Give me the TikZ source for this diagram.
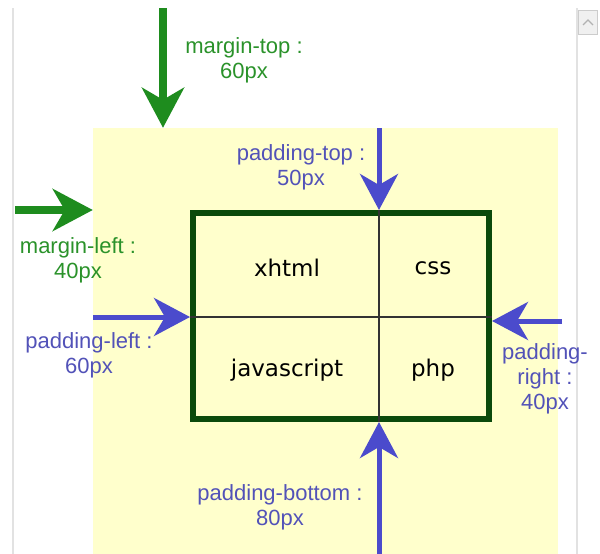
\documentclass[tikz,border=0pt]{standalone}
\usepackage{fontspec}
\setmainfont{Liberation Sans}
\newfontfamily\cellfont{DejaVu Sans}
\usepackage{xcolor}
\usepackage{tikz}
\usetikzlibrary{arrows.meta,positioning}
\definecolor{cssgreen}{HTML}{1E8C1E}
\definecolor{csstextgreen}{HTML}{2A922A}
\definecolor{cssblue}{HTML}{4B4BCC}
\definecolor{csstextblue}{HTML}{5252B8}
\definecolor{cssbox}{HTML}{0B4A0B}
\definecolor{cssyellow}{HTML}{FFFFCC}
\definecolor{cssgray}{HTML}{E2E2E2}
\tikzset{
  area/.style={fill=cssyellow,draw=none,inner sep=0pt,minimum width=465pt,minimum height=426pt},
  tablebox/.style={draw=cssbox,line width=6pt,fill=cssyellow,inner sep=0pt,minimum width=296pt,minimum height=206pt},
  cell/.style={font=\cellfont\fontsize{23}{26}\selectfont,text=black,inner sep=1pt},
  mar/.style={-{Stealth[length=40pt,width=42pt,inset=12pt]},draw=cssgreen,fill=cssgreen,line width=8pt},
  par/.style={-{Stealth[length=36pt,width=38pt,inset=11pt]},draw=cssblue,fill=cssblue,line width=5pt},
  mlabel/.style={text=csstextgreen,align=center,font=\fontsize{22}{25}\selectfont,inner sep=1pt},
  plabel/.style={text=csstextblue,align=center,font=\fontsize{22}{25}\selectfont,inner sep=1pt},
}
\begin{document}
\begin{tikzpicture}[x=1pt,y=-1pt]
  \useasboundingbox (0,0) rectangle (600,554);
  % page frame and scroll button
  \draw[cssgray,line width=1.2pt] (13,8) -- (13,554);
  \draw[cssgray,line width=1.2pt] (577,8) -- (577,554);
  \node[draw=gray!40,fill=gray!12,minimum width=19pt,minimum height=24pt,inner sep=0pt] (scroll) at (588,22) {};
  \draw[gray!60,line width=1.2pt] ([xshift=-5pt,yshift=-3pt]scroll.center) -- ([yshift=2pt]scroll.center) -- ([xshift=5pt,yshift=-3pt]scroll.center);
  % padding area and table
  \node[area] (padarea) at (325.5,341) {};
  \node[tablebox] (tbl) at (341,316) {};
  \draw[black!80,line width=1.3pt] (379,0 |- tbl.north) -- (379,0 |- tbl.south);
  \draw[black!80,line width=1.3pt] (tbl.west |- 0,317) -- (tbl.east |- 0,317);
  \node[cell] (xhtml) at (287,268) {xhtml};
  \node[cell] (css) at (433,268) {css};
  \node[cell] (js) at (287,370) {javascript};
  \node[cell] (php) at (433,370) {php};
  % margin arrows
  \coordinate (mtop) at (163,8);
  \coordinate (mleft) at (15,210);
  \draw[mar] (mtop) -- (mtop |- padarea.north);
  \draw[mar] (mleft) -- (mleft -| padarea.west);
  % padding arrows
  \coordinate (ptop) at (379,128);
  \coordinate (pleft) at (93,317);
  \coordinate (pright) at (562,321);
  \coordinate (pbottom) at (379,554);
  \draw[par] (ptop) -- (ptop |- tbl.north);
  \draw[par] (pleft) -- (pleft -| tbl.west);
  \draw[par] (pright) -- (pright -| tbl.east);
  \draw[par] (pbottom) -- (pbottom |- tbl.south);
  % labels
  \node[mlabel] (mtoplbl) at (244,60) {margin-top :\\60px};
  \node[mlabel] (mleftlbl) at (78,260) {margin-left :\\40px};
  \node[plabel] (ptoplbl) at (301,167) {padding-top :\\50px};
  \node[plabel] (pleftlbl) at (89,355) {padding-left :\\60px};
  \node[plabel] (prightlbl) at (545,379) {padding-\\right :\\40px};
  \node[plabel] (pbottomlbl) at (280,507) {padding-bottom :\\80px};
\end{tikzpicture}
\end{document}
